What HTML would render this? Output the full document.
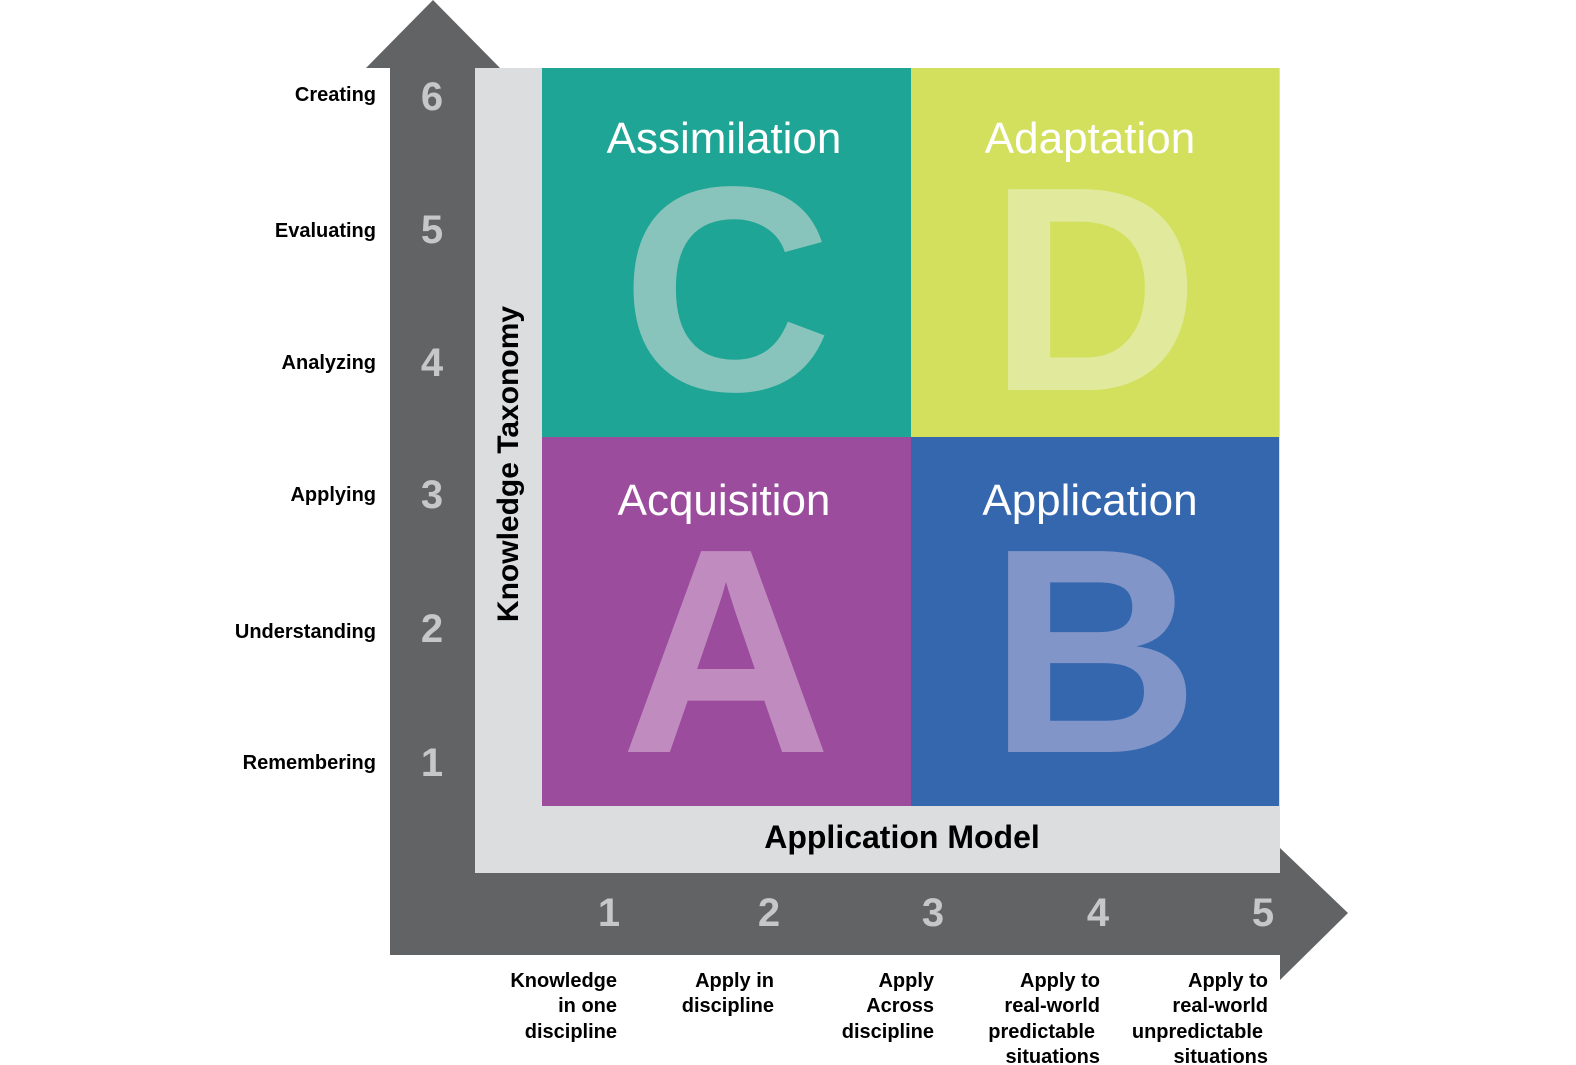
<!DOCTYPE html>
<html><head><meta charset="utf-8"><style>
body{margin:0;background:#fff;}
svg{display:block;}
text{font-family:"Liberation Sans",sans-serif;}
</style></head><body>
<svg width="1576" height="1065" viewBox="0 0 1576 1065" xmlns="http://www.w3.org/2000/svg">
<rect width="1576" height="1065" fill="#fff"/>
<polygon points="433,0 500,68 475,68 475,873 1280,873 1280,848 1348,913 1280,980 1280,955 390,955 390,68 366,68" fill="#626365"/>
<rect x="475" y="68" width="805" height="805" fill="#dcdddf"/>
<rect x="542" y="68" width="369" height="369" fill="#1fa595"/>
<rect x="911" y="68" width="368" height="369" fill="#d2e05e"/>
<rect x="542" y="437" width="369" height="369" fill="#9c4c9d"/>
<rect x="911" y="437" width="368" height="369" fill="#3467ae"/>
<g font-weight="bold" text-anchor="middle" font-size="292">
<text x="727" y="390" fill="#88c4bb">C</text>
<text x="1094" y="390" fill="#e1ea9c">D</text>
<text x="726" y="752" fill="#c08cc0">A</text>
<text x="1094" y="752" fill="#8195c9">B</text>
</g>
<g fill="#fff" font-size="44" text-anchor="middle">
<text x="724" y="153">Assimilation</text>
<text x="1090" y="153">Adaptation</text>
<text x="724" y="515">Acquisition</text>
<text x="1090" y="515">Application</text>
</g>
<text x="902" y="848" font-size="32" font-weight="bold" text-anchor="middle" fill="#000">Application Model</text>
<text transform="translate(518,464) rotate(-90)" font-size="30" font-weight="bold" text-anchor="middle" fill="#000">Knowledge Taxonomy</text>
<g font-size="20" font-weight="bold" text-anchor="end" fill="#000">
<text x="376" y="101">Creating</text>
<text x="376" y="237">Evaluating</text>
<text x="376" y="369">Analyzing</text>
<text x="376" y="501">Applying</text>
<text x="376" y="638">Understanding</text>
<text x="376" y="769">Remembering</text>
</g>
<g font-size="40" font-weight="bold" text-anchor="middle" fill="#c6c7c9">
<text x="432" y="110">6</text>
<text x="432" y="243">5</text>
<text x="432" y="376">4</text>
<text x="432" y="508">3</text>
<text x="432" y="642">2</text>
<text x="432" y="776">1</text>
<text x="609" y="926">1</text>
<text x="769" y="926">2</text>
<text x="933" y="926">3</text>
<text x="1098" y="926">4</text>
<text x="1263" y="926">5</text>
</g>
<g font-size="20" font-weight="bold" text-anchor="end" fill="#000">
<text x="617" y="987">Knowledge</text><text x="617" y="1012">in one</text><text x="617" y="1038">discipline</text>
<text x="774" y="987">Apply in</text><text x="774" y="1012">discipline</text>
<text x="934" y="987">Apply</text><text x="934" y="1012">Across</text><text x="934" y="1038">discipline</text>
<text x="1100" y="987">Apply to</text><text x="1100" y="1012">real-world</text><text x="1095" y="1038">predictable</text><text x="1100" y="1063">situations</text>
<text x="1268" y="987">Apply to</text><text x="1268" y="1012">real-world</text><text x="1263" y="1038">unpredictable</text><text x="1268" y="1063">situations</text>
</g>
</svg>
</body></html>
